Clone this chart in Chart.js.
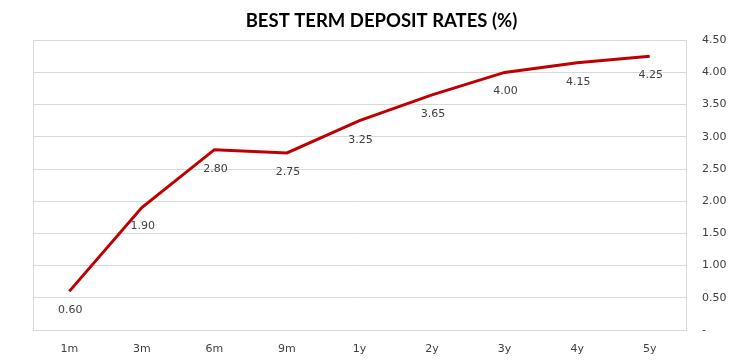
<!DOCTYPE html>
<html>
<head>
<meta charset="utf-8">
<script src="https://cdn.jsdelivr.net/npm/chart.js@4"></script>
<style>
html,body{margin:0;padding:0;background:#fff;}
#wrap{width:730px;height:360px;}
</style>
</head>
<body>
<div id="wrap"><canvas id="c"></canvas></div>
<script>
const categories = ['1m','3m','6m','9m','1y','2y','3y','4y','5y'];
const rates = [0.60, 1.90, 2.80, 2.75, 3.25, 3.65, 4.00, 4.15, 4.25];
const chartTitle = 'BEST TERM DEPOSIT RATES (%)';

const frame = {
  id: 'frame',
  beforeDatasetsDraw(chart) {
    const a = chart.chartArea, ctx = chart.ctx;
    ctx.save();
    ctx.strokeStyle = '#d9d9d9';
    ctx.lineWidth = 1;
    ctx.strokeRect(Math.round(a.left) + 0.5, Math.round(a.top) + 0.5,
      Math.round(a.right - a.left), Math.round(a.bottom - a.top));
    ctx.restore();
  }
};

const labels = {
  id: 'labels',
  afterDatasetsDraw(chart) {
    const ctx = chart.ctx;
    const meta = chart.getDatasetMeta(0);
    ctx.save();
    ctx.font = '11px "DejaVu Sans"';
    ctx.fillStyle = '#404040';
    ctx.textAlign = 'center';
    ctx.textBaseline = 'middle';
    meta.data.forEach((pt, i) => {
      ctx.fillText(rates[i].toFixed(2), pt.x + 1, pt.y + 19);
    });
    ctx.restore();
  }
};

new Chart(document.getElementById('c'), {
  type: 'line',
  data: {
    labels: categories,
    datasets: [{
      data: rates,
      borderColor: '#C00000',
      borderWidth: 3,
      pointRadius: 0,
      tension: 0,
      fill: false
    }]
  },
  options: {
    responsive: true,
    maintainAspectRatio: false,
    animation: false,
    layout: { padding: { left: 33, right: 0, top: 0, bottom: 6 } },
    plugins: {
      legend: { display: false },
      tooltip: { enabled: false },
      title: {
        display: true,
        text: chartTitle,
        color: '#000000',
        font: { family: 'Lato', size: 18.5, weight: 'bold' },
        padding: { top: 10, bottom: 8 }
      }
    },
    scales: {
      x: {
        offset: true,
        afterFit(s) { s.height = 24; },
        grid: { display: false, drawTicks: false },
        border: { display: false },
        ticks: { color: '#404040', font: { family: 'DejaVu Sans', size: 11 }, padding: 13, maxRotation: 0 }
      },
      y: {
        position: 'right',
        min: 0,
        max: 4.5,
        afterFit(s) { s.width = 44; },
        grid: { color: '#d9d9d9', drawTicks: false },
        border: { display: false },
        ticks: {
          stepSize: 0.5,
          color: '#404040',
          font: { family: 'DejaVu Sans', size: 11 },
          padding: 16,
          callback: v => v === 0 ? '-' : Number(v).toFixed(2)
        }
      }
    }
  },
  plugins: [frame, labels]
});
</script>
</body>
</html>
